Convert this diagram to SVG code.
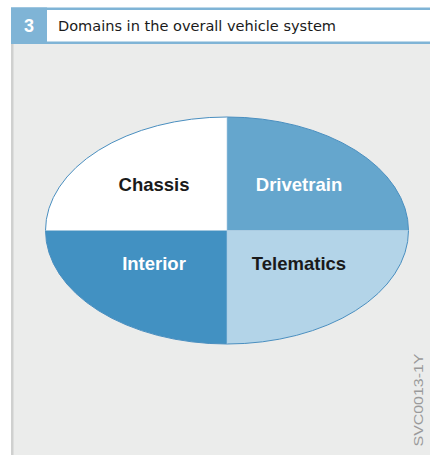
<svg xmlns="http://www.w3.org/2000/svg" width="430" height="455" viewBox="0 0 430 455">
<style>
.lbl{font-family:"Liberation Sans",Arial,sans-serif;font-weight:bold;font-size:18.5px;text-anchor:middle}
.dark{fill:#1a1a1a}
.light{fill:#ffffff}
</style>
<defs>
<clipPath id="ell"><ellipse cx="227" cy="230.5" rx="181.5" ry="113.5"/></clipPath>
</defs>
<rect x="0" y="0" width="430" height="455" fill="#ffffff"/>
<rect x="11" y="44" width="419" height="411" fill="#ebeceb"/>
<rect x="11" y="44" width="2.5" height="411" fill="#cfd0cf"/>
<g id="header">
<rect x="11" y="7.5" width="419" height="2.5" fill="#7fb4d6"/>
<rect x="11" y="41.5" width="419" height="2.5" fill="#7fb4d6"/>
<rect x="11" y="7.5" width="36" height="36.5" fill="#7fb4d6"/>
<text x="29" y="32" font-family="Liberation Sans,Arial,sans-serif" font-weight="bold" font-size="18" fill="#ffffff" text-anchor="middle">3</text>
<text x="58" y="31" font-family="DejaVu Sans,Liberation Sans,sans-serif" font-size="14" fill="#1a1a1a" textLength="278" lengthAdjust="spacingAndGlyphs">Domains in the overall vehicle system</text>
</g>
<g clip-path="url(#ell)">
<g id="chassis"><rect x="40" y="110" width="187" height="120.5" fill="#ffffff"/></g>
<g id="drivetrain"><rect x="227" y="110" width="190" height="120.5" fill="#65a6cd"/></g>
<g id="interior"><rect x="40" y="230.5" width="187" height="120" fill="#4291c2"/></g>
<g id="telematics"><rect x="227" y="230.5" width="190" height="120" fill="#b3d4e8"/></g>
</g>
<g id="connectors">
<ellipse cx="227" cy="230.5" rx="181.5" ry="113.5" fill="none" stroke="#4a8fc0" stroke-width="1"/>
<line x1="227" y1="117" x2="227" y2="344" stroke="#a9cbe2" stroke-width="0.6"/>
<line x1="45.5" y1="230.5" x2="408.5" y2="230.5" stroke="#a9cbe2" stroke-width="0.6"/>
</g>
<text class="lbl dark" x="154" y="191">Chassis</text>
<text class="lbl light" x="299" y="191">Drivetrain</text>
<text class="lbl light" x="154" y="270">Interior</text>
<text class="lbl dark" x="299" y="270">Telematics</text>
<text x="0" y="0" transform="translate(423,400) rotate(-90)" font-family="Liberation Sans,Arial,sans-serif" font-size="13" fill="#9a9a9a" text-anchor="middle" textLength="93" lengthAdjust="spacingAndGlyphs">SVC0013-1Y</text>
</svg>
